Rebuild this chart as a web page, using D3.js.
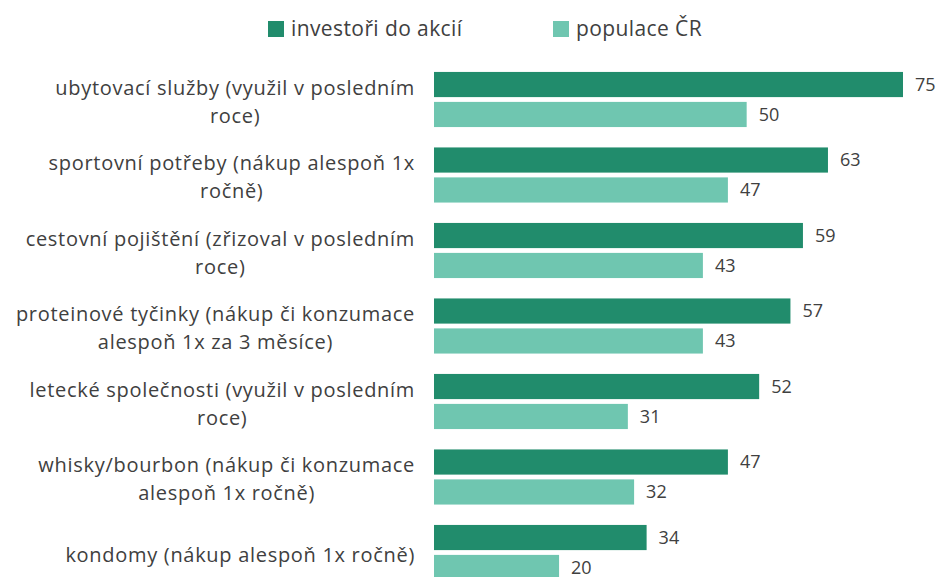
<!DOCTYPE html>
<html><head><meta charset="utf-8">
<script src="https://cdn.jsdelivr.net/npm/d3@7"></script>
<style>body{margin:0;background:#fff}svg{display:block}</style>
</head><body><svg id="c" width="950" height="577"></svg>
<script>
const categories = [
  ["ubytovací služby (využil v posledním", "roce)"],
  ["sportovní potřeby (nákup alespoň 1x", "ročně)"],
  ["cestovní pojištění (zřizoval v posledním", "roce)"],
  ["proteinové tyčinky (nákup či konzumace", "alespoň 1x za 3 měsíce)"],
  ["letecké společnosti (využil v posledním", "roce)"],
  ["whisky/bourbon (nákup či konzumace", "alespoň 1x ročně)"],
  ["kondomy (nákup alespoň 1x ročně)"]
];
const seriesNames = ["investoři do akcií", "populace ČR"];
const investori = [75, 63, 59, 57, 52, 47, 34];
const populace = [50, 47, 43, 43, 31, 32, 20];
const colors = ["#218c6c", "#6fc6b0"];

const svg = d3.select("#c");
const font = "'Open Sans', 'Noto Sans', sans-serif";
const textColor = "#404040";
const keys = categories.map((c, i) => "c" + i);

const x = d3.scaleLinear().domain([0, 75]).range([434, 903]);
const y = d3.scaleBand().domain(keys).range([61.75, 590.25]).paddingInner(0.27).paddingOuter(0.135);
const y2 = d3.scaleBand().domain(seriesNames).range([0, y.bandwidth()]).paddingInner(0.16);

const data = [investori, populace];

// legend
const legend = svg.append("g");
const legX = [268, 553];
seriesNames.forEach((s, i) => {
  legend.append("rect").attr("x", legX[i]).attr("y", 21).attr("width", 16).attr("height", 16).attr("fill", colors[i]);
  legend.append("text").attr("x", legX[i] + 23).attr("y", 36)
    .attr("font-family", font).attr("font-size", 21).attr("letter-spacing", 0.4).attr("fill", textColor).text(s);
});

// bars
const groups = svg.append("g").selectAll("g").data(keys).join("g")
  .attr("transform", d => `translate(0,${y(d)})`);

groups.each(function(k, i) {
  const g = d3.select(this);
  seriesNames.forEach((s, j) => {
    const v = data[j][i];
    g.append("rect").attr("x", x(0)).attr("y", y2(s))
      .attr("width", x(v) - x(0)).attr("height", y2.bandwidth()).attr("fill", colors[j]);
    g.append("text").attr("x", x(v) + 12).attr("y", y2(s) + y2.bandwidth() / 2).attr("dy", "0.35em")
      .attr("font-family", font).attr("font-size", 18).attr("fill", textColor).text(v);
  });
  // category label
  const lines = categories[i];
  const lh = 28;
  const cy = y.bandwidth() / 2 + 2.5;
  const t = g.append("text").attr("font-family", font).attr("font-size", 20).attr("letter-spacing", 0.7)
    .attr("fill", textColor).attr("text-anchor", "middle");
  const tsp = lines.map((l, li) => t.append("tspan").attr("y", cy + (li - (lines.length - 1) / 2) * lh).attr("dy", "0.35em").text(l));
  const maxW = d3.max(tsp, ts => ts.node().getComputedTextLength());
  const cx = 415 - maxW / 2;
  tsp.forEach(ts => ts.attr("x", cx));
});
</script></body></html>
